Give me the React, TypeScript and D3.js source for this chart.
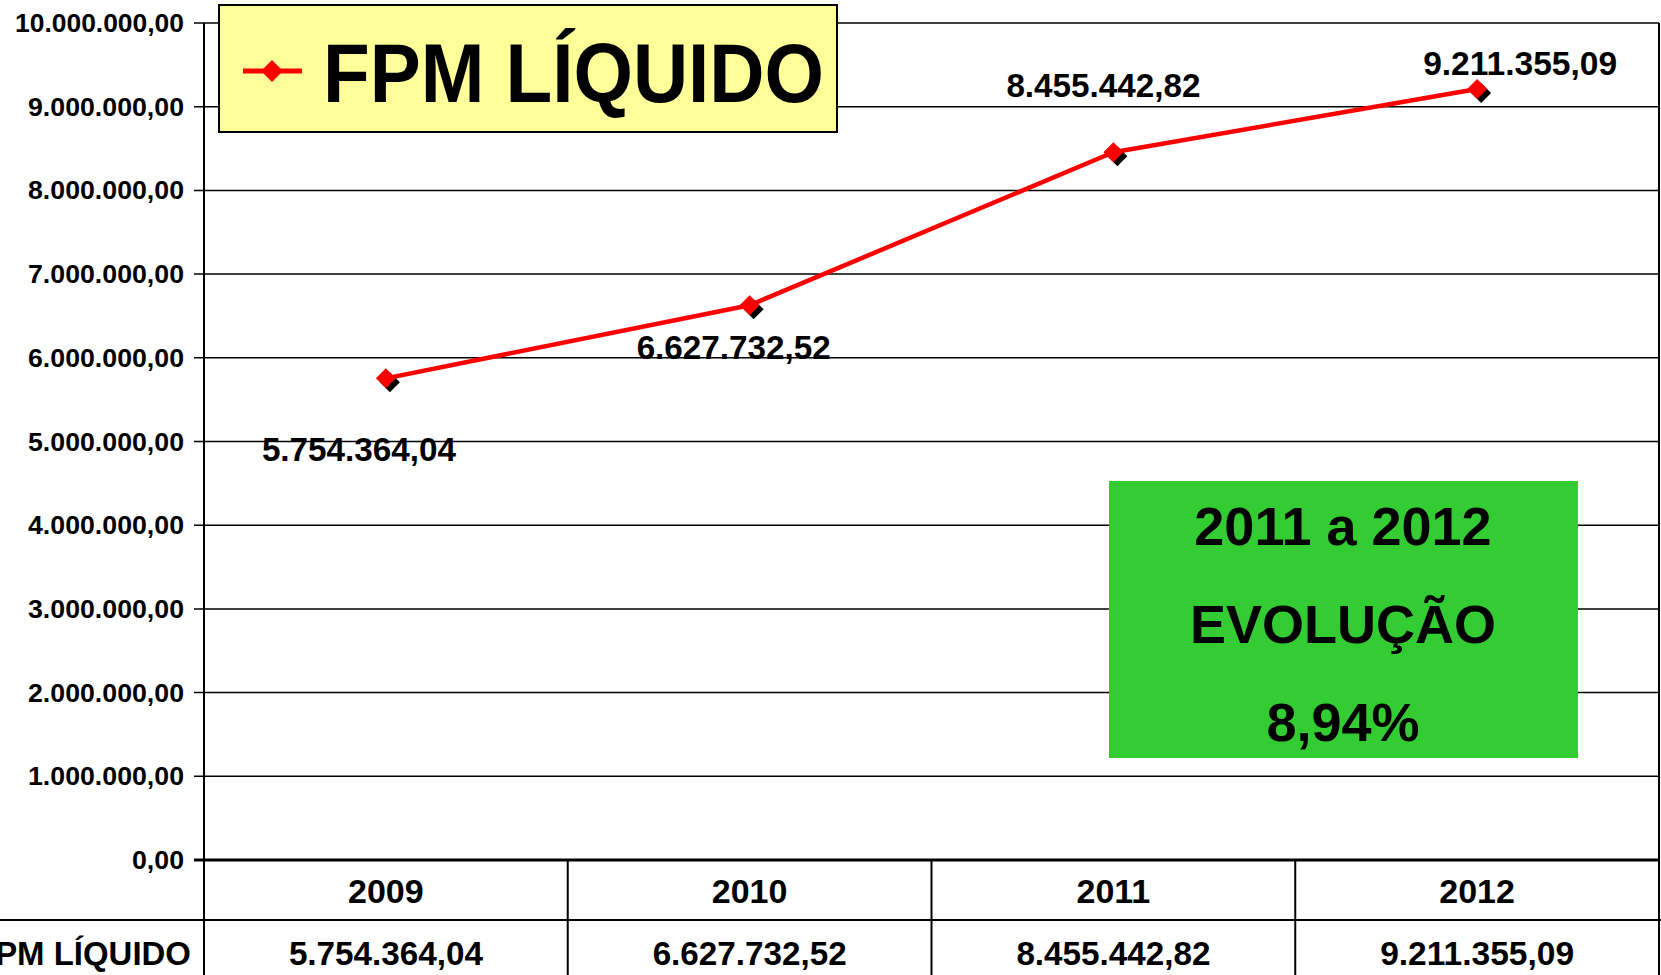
import * as d3 from 'd3'

const years = ['2009', '2010', '2011', '2012']
const fpmLiquido = [5754364.04, 6627732.52, 8455442.82, 9211355.09]
const yTicks = [0, 1e6, 2e6, 3e6, 4e6, 5e6, 6e6, 7e6, 8e6, 9e6, 1e7]
const seriesName = 'FPM LÍQUIDO'
const noteLines = ['2011 a 2012', 'EVOLUÇÃO', '8,94%']

// label placement relative to each point (dx, dy)
const labelOffsets = [[-27, 71], [-16, 42], [-10, -67], [43, -26]]

const ptBR = d3.formatLocale({ decimal: ',', thousands: '.', grouping: [3], currency: ['R$', ''] })
const fmt = ptBR.format(',.2f')

const W = 1661
const H = 975
const margin = { top: 23, right: 2, bottom: 115, left: 204 }
const font = '"Liberation Sans", Arial, sans-serif'

export default function App() {
  const x = d3.scaleBand().domain(years).range([margin.left, W - margin.right]).padding(0)
  const y = d3.scaleLinear().domain([0, 1e7]).range([H - margin.bottom, margin.top])
  const cx = (i: number) => x(years[i])! + x.bandwidth() / 2

  const line = d3.line<number>()
    .x((_, i) => cx(i))
    .y(d => y(d))

  const diamond = (px: number, py: number, r: number) =>
    `M${px},${py - r}L${px + r},${py}L${px},${py + r}L${px - r},${py}Z`

  const y0 = y(0)
  const rowY = y0 + 60

  return (
    <svg width={W} height={H} style={{ position: 'absolute', left: 0, top: 0, background: '#fff' }}
      fontFamily={font} fontWeight="bold">
      {/* grid lines */}
      {yTicks.map(t => (
        <g key={t}>
          <line x1={margin.left - 10} x2={W - margin.right} y1={y(t)} y2={y(t)}
            stroke="#000" strokeWidth={t === 0 ? 3 : 1.5} />
          <text x={margin.left - 20} y={y(t)} textAnchor="end" dominantBaseline="central"
            fontSize={25} textLength={fmt(t).length * 13} lengthAdjust="spacingAndGlyphs">{fmt(t)}</text>
        </g>
      ))}
      {/* y axis + right border */}
      <line x1={margin.left} x2={margin.left} y1={margin.top} y2={H} stroke="#000" strokeWidth={2} />
      <line x1={W - margin.right} x2={W - margin.right} y1={margin.top} y2={H} stroke="#000" strokeWidth={2} />

      {/* data table */}
      <line x1={0} x2={W} y1={rowY} y2={rowY} stroke="#000" strokeWidth={2} />
      {years.map((yr, i) => (
        <g key={yr}>
          <line x1={x(yr)! + x.bandwidth()} x2={x(yr)! + x.bandwidth()} y1={y0} y2={H} stroke="#000" strokeWidth={2} />
          <text x={cx(i)} y={y0 + 31} textAnchor="middle" dominantBaseline="central" fontSize={34}>{yr}</text>
          <text x={cx(i)} y={rowY + 33} textAnchor="middle" dominantBaseline="central" fontSize={34}
            textLength={194} lengthAdjust="spacingAndGlyphs">{fmt(fpmLiquido[i])}</text>
        </g>
      ))}
      <text x={margin.left - 13} y={rowY + 33} textAnchor="end" dominantBaseline="central" fontSize={34}
        textLength={216} lengthAdjust="spacingAndGlyphs">{seriesName}</text>

      {/* series */}
      <path d={line(fpmLiquido)!} fill="none" stroke="#ff0000" strokeWidth={4.5} strokeLinejoin="round" />
      {fpmLiquido.map((v, i) => (
        <g key={i}>
          <path d={diamond(cx(i) + 4, y(v) + 4, 10)} fill="#000" />
          <path d={diamond(cx(i), y(v), 10)} fill="#ff0000" />
          <text x={cx(i) + labelOffsets[i][0]} y={y(v) + labelOffsets[i][1]} textAnchor="middle"
            dominantBaseline="central" fontSize={34} textLength={194} lengthAdjust="spacingAndGlyphs">{fmt(v)}</text>
        </g>
      ))}

      {/* legend */}
      <rect x={219} y={5} width={618} height={127} fill="#ffff99" stroke="#000" strokeWidth={2} />
      <line x1={243} x2={302} y1={71} y2={71} stroke="#ff0000" strokeWidth={5} />
      <path d={diamond(272, 71, 11)} fill="#ff0000" />
      <text x={323} y={73} dominantBaseline="central" fontSize={84} textLength={501}
        lengthAdjust="spacingAndGlyphs">{seriesName}</text>

      {/* evolution note */}
      <rect x={1109} y={481} width={469} height={277} fill="#33cc33" />
      {noteLines.map((s, i) => (
        <text key={s} x={1343} y={526 + i * 98} textAnchor="middle" dominantBaseline="central" fontSize={54}>{s}</text>
      ))}
    </svg>
  )
}
